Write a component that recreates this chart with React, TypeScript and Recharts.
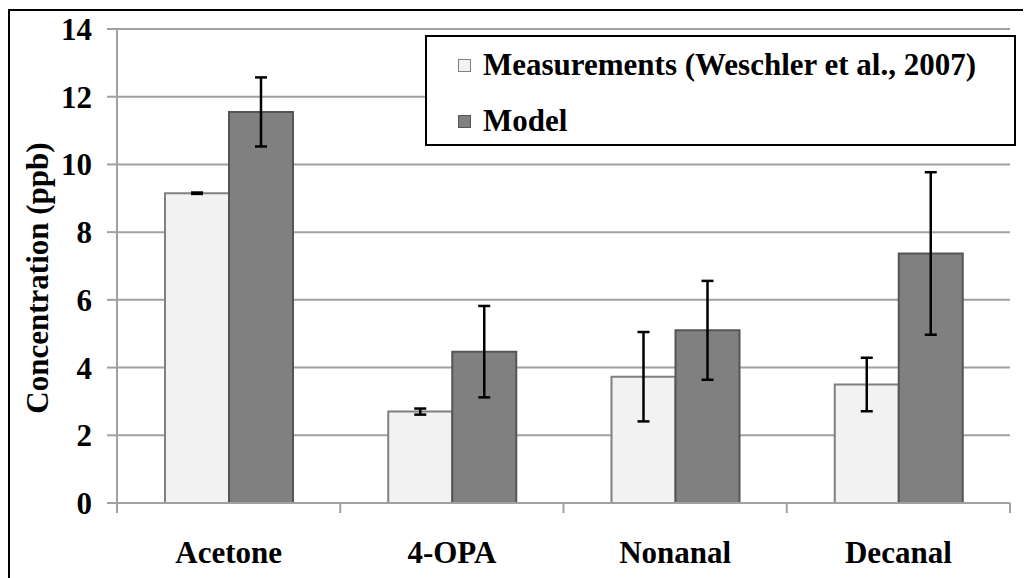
import { BarChart, Bar, XAxis, YAxis, CartesianGrid, ErrorBar, Legend } from 'recharts'

const categories = ['Acetone', '4-OPA', 'Nonanal', 'Decanal']
const measured = [9.15, 2.7, 3.73, 3.5]
const measuredErr = [0.02, 0.09, 1.32, 0.79]
const model = [11.55, 4.47, 5.1, 7.37]
const modelErr = [1.02, 1.35, 1.46, 2.4]
const yTicks = [0, 2, 4, 6, 8, 10, 12, 14]

const SERIES = [
  { key: 'measured', name: 'Measurements (Weschler et al., 2007)', fill: '#f2f2f2', stroke: '#808080' },
  { key: 'model', name: 'Model', fill: '#808080', stroke: '#555555' },
]

const FONT = '"Liberation Serif", "Times New Roman", serif'
const TICK_SIZE = 10
const X_TICK_MARGIN = 28
const GRID = '#a0a0a0'

const data = categories.map((name, i) => ({
  name,
  measured: measured[i],
  measuredErr: measuredErr[i],
  model: model[i],
  modelErr: modelErr[i],
}))

function LegendBox() {
  return (
    <div
      style={{
        width: 591,
        height: 111,
        boxSizing: 'border-box',
        border: '2px solid #000',
        background: '#fff',
        fontFamily: FONT,
        fontWeight: 'bold',
        fontSize: 31,
        color: '#000',
        paddingLeft: 31,
        paddingTop: 5,
      }}
    >
      {SERIES.map(s => (
        <div key={s.key} style={{ display: 'flex', alignItems: 'center', height: 46, marginBottom: 10 }}>
          <span
            style={{
              display: 'inline-block',
              width: 11,
              height: 11,
              background: s.fill,
              border: `1px solid ${s.stroke}`,
              marginRight: 12,
            }}
          />
          <span>{s.name}</span>
        </div>
      ))}
    </div>
  )
}

// category label plus tick marks at the category edges (Excel style)
function CategoryTick(props: any) {
  const { x, y, payload, index, visibleTicksCount } = props
  const half = payload.offset || 0
  const top = y - X_TICK_MARGIN - TICK_SIZE
  const edges = [x - half]
  if (index === visibleTicksCount - 1) edges.push(x + half)
  return (
    <g>
      {edges.map(ex => (
        <line key={ex} x1={ex} x2={ex} y1={top} y2={top + TICK_SIZE} stroke={GRID} strokeWidth={2} />
      ))}
      <text
        x={x}
        y={y}
        dy="0.71em"
        textAnchor="middle"
        style={{ fontFamily: FONT, fontWeight: 'bold', fontSize: 31, fill: '#000' }}
      >
        {payload.value}
      </text>
    </g>
  )
}

const tickStyle = { fontFamily: FONT, fontWeight: 'bold', fontSize: 31, fill: '#000' }
const axisStroke = { stroke: GRID, strokeWidth: 2 }

export default function App() {
  return (
    <div style={{ position: 'relative', width: 1031, height: 578, marginLeft: -8, marginTop: -8, overflow: 'hidden', background: '#fff' }}>
      <div
        style={{
          position: 'absolute',
          left: 8,
          top: 9,
          width: 1100,
          height: 700,
          border: '2px solid #000',
        }}
      />
      <div style={{ position: 'absolute', left: 0, top: 0 }}>
        <BarChart
          width={1031}
          height={578}
          data={data}
          margin={{ top: 29, right: 21, bottom: 0, left: 0 }}
          barGap={0}
          barSize={64}
        >
          <CartesianGrid vertical={false} stroke={GRID} strokeWidth={2} />
          <XAxis
            dataKey="name"
            height={75}
            axisLine={axisStroke}
            tickLine={false}
            tickSize={TICK_SIZE}
            tickMargin={X_TICK_MARGIN}
            tick={<CategoryTick />}
            interval={0}
          />
          <YAxis
            width={117}
            domain={[0, 14]}
            ticks={yTicks}
            interval={0}
            axisLine={axisStroke}
            tickLine={axisStroke}
            tickSize={TICK_SIZE}
            tickMargin={15}
            tick={tickStyle}
            label={{
              content: () => (
                <text
                  x={37}
                  y={278}
                  transform="rotate(-90 37 278)"
                  textAnchor="middle"
                  dominantBaseline="central"
                  style={{ fontFamily: FONT, fontWeight: 'bold', fontSize: 31, fill: '#000' }}
                >
                  Concentration (ppb)
                </text>
              ),
            }}
          />
          <Legend
            layout="vertical"
            align="center"
            verticalAlign="middle"
            wrapperStyle={{ left: 425, top: 35, width: 591, height: 111 }}
            content={() => <LegendBox />}
          />
          {SERIES.map(s => (
            <Bar
              key={s.key}
              dataKey={s.key}
              name={s.name}
              fill={s.fill}
              stroke={s.stroke}
              strokeWidth={2}
              isAnimationActive={false}
            >
              <ErrorBar dataKey={`${s.key}Err`} width={6} stroke="#000" strokeWidth={2.5} direction="y" />
            </Bar>
          ))}
        </BarChart>
      </div>
    </div>
  )
}
